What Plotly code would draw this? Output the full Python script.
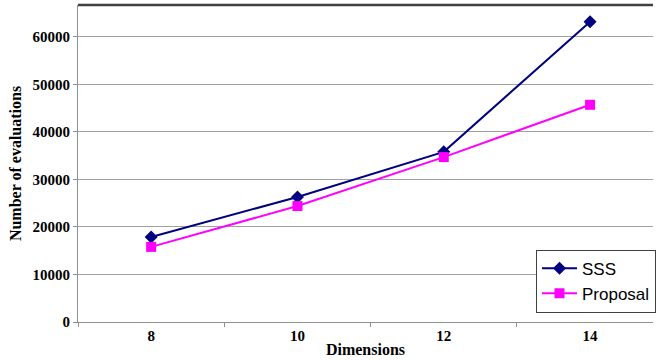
import plotly.graph_objects as go

dimensions = ["8", "10", "12", "14"]
sss_evals = [17900, 26300, 35800, 63200]
proposal_evals = [15800, 24400, 34700, 45700]
y_ticks = [0, 10000, 20000, 30000, 40000, 50000, 60000]

serif = "Liberation Serif, Times New Roman, serif"

fig = go.Figure()
fig.add_trace(go.Scatter(
    x=dimensions, y=sss_evals, name="SSS", mode="lines+markers",
    line=dict(color="#000080", width=2),
    marker=dict(symbol="diamond", size=10, color="#000080"),
))
fig.add_trace(go.Scatter(
    x=dimensions, y=proposal_evals, name="Proposal", mode="lines+markers",
    line=dict(color="#ff00ff", width=2),
    marker=dict(symbol="square", size=10, color="#ff00ff"),
))

fig.update_layout(
    width=656, height=360,
    margin=dict(l=78, r=0, t=5, b=38),
    paper_bgcolor="white", plot_bgcolor="white",
    showlegend=True,
    legend=dict(
        x=0.797, y=0.228, xanchor="left", yanchor="top",
        bgcolor="white", bordercolor="#404040", borderwidth=1,
        font=dict(family="Arial, Liberation Sans, sans-serif", size=17, color="black"),
        itemwidth=35,
    ),
    xaxis=dict(
        type="category", range=[-0.5, 3.43],
        showgrid=False, showline=True, linecolor="#909090", linewidth=1,
        ticks="outside", ticklen=4, tickcolor="#909090", tickson="boundaries",
        tickfont=dict(family=serif, size=15, color="black", weight="bold"),
        title=dict(text="Dimensions", standoff=0,
                   font=dict(family=serif, size=16, color="black", weight="bold")),
    ),
    yaxis=dict(
        range=[0, 66700], tickmode="array", tickvals=y_ticks,
        ticktext=[str(v) for v in y_ticks],
        showgrid=True, gridcolor="#a0a0a0", gridwidth=1,
        showline=True, linecolor="#909090", linewidth=1,
        ticks="outside", ticklen=4, tickcolor="#909090",
        zeroline=False,
        tickfont=dict(family=serif, size=15, color="black", weight="bold"),
        title=dict(text="Number of evaluations", standoff=6,
                   font=dict(family=serif, size=16, color="black", weight="bold")),
    ),
    shapes=[dict(type="line", xref="paper", yref="paper", x0=0, x1=1, y0=1, y1=1,
                 line=dict(color="#404040", width=2.5))],
)

fig.write_html("out.html")
